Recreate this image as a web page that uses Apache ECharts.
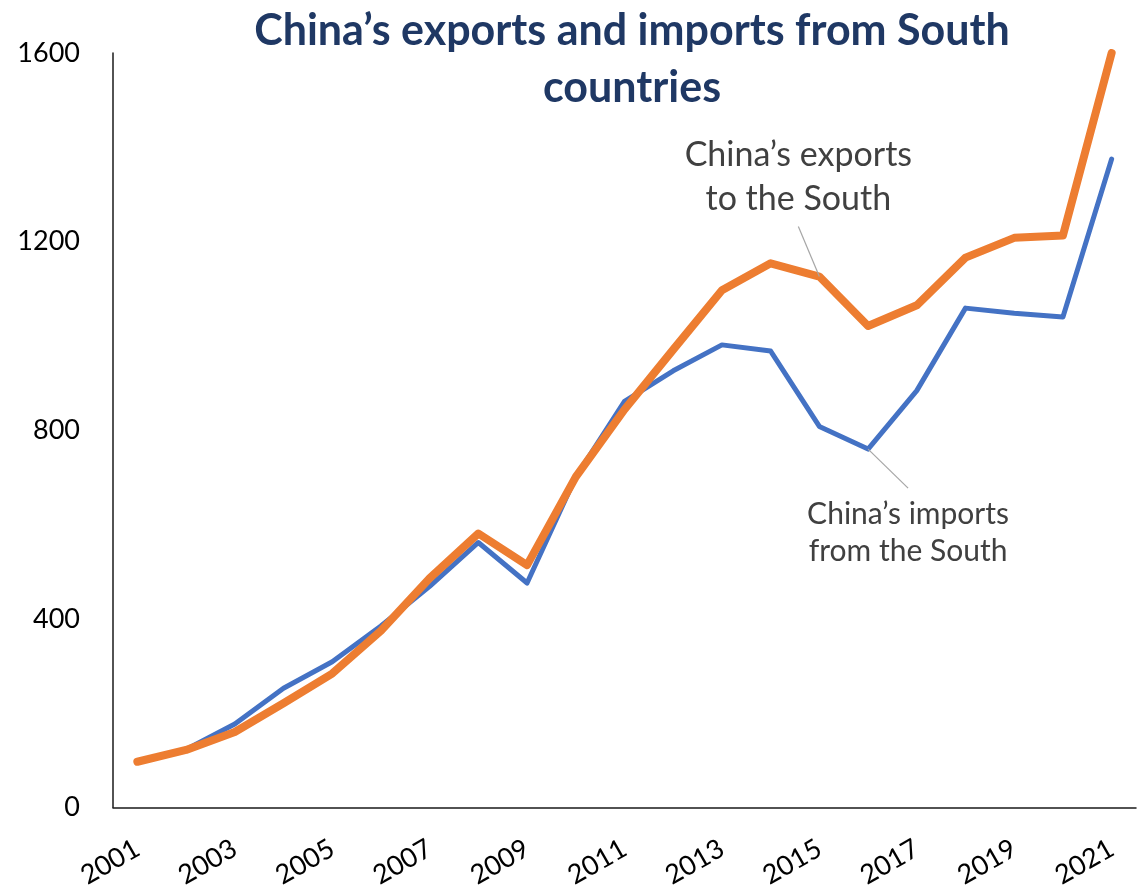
<!DOCTYPE html>
<html>
<head>
<meta charset="utf-8">
<style>
  html, body { margin: 0; padding: 0; background: #fff; }
  #chart { width: 1138px; height: 891px; }
</style>
<script src="https://cdn.jsdelivr.net/npm/echarts@6/dist/echarts.min.js"></script>
</head>
<body>
<div id="chart"></div>
<script>
// Years on the horizontal axis
const years = ['2001','2002','2003','2004','2005','2006','2007','2008','2009','2010',
               '2011','2012','2013','2014','2015','2016','2017','2018','2019','2020','2021'];

// China's exports to the South
const exportsSouth = [97, 122, 160, 221, 284, 375, 486, 581, 514, 701,
                      844, 971, 1097, 1154, 1126, 1021, 1065, 1166, 1208, 1213, 1600];

// China's imports from the South
const importsSouth = [97, 123, 177, 253, 309, 385, 469, 562, 476, 701,
                      861, 926, 981, 968, 808, 760, 884, 1059, 1048, 1040, 1375];

const yTicks = [0, 400, 800, 1200, 1600];

const titleText = 'China\u2019s exports and imports from South\ncountries';
const exportsLabel = 'China\u2019s exports\nto the South';
const importsLabel = 'China\u2019s imports\nfrom the South';

const FONT = 'Lato, "Open Sans", sans-serif';

const chart = echarts.init(document.getElementById('chart'), null, { renderer: 'canvas' });

chart.setOption({
  animation: false,
  backgroundColor: '#ffffff',
  title: {
    text: titleText,
    left: 627,
    textAlign: 'center',
    top: -2,
    textStyle: {
      fontFamily: FONT,
      fontWeight: 'bold',
      fontSize: 43,
      lineHeight: 57,
      color: '#1F3864'
    }
  },
  grid: { left: 113, right: 2, top: 53, bottom: 78, containLabel: false },
  xAxis: {
    type: 'category',
    data: years,
    boundaryGap: true,
    axisLine: { show: true, lineStyle: { color: '#1a1a1a', width: 1.5 } },
    axisTick: { show: false },
    axisLabel: {
      interval: 1,
      rotate: 30,
      margin: 39,
      fontFamily: FONT,
      fontSize: 27,
      color: '#000'
    }
  },
  yAxis: {
    type: 'value',
    min: yTicks[0],
    max: yTicks[yTicks.length - 1],
    interval: yTicks[1] - yTicks[0],
    splitLine: { show: false },
    axisLine: { show: true, lineStyle: { color: '#1a1a1a', width: 1.5 } },
    axisTick: { show: false },
    axisLabel: {
      margin: 33,
      fontFamily: FONT,
      fontSize: 27,
      color: '#000',
      formatter: (v) => String(v)
    }
  },
  series: [
    {
      name: 'imports',
      type: 'line',
      data: importsSouth,
      symbol: 'none',
      lineStyle: { color: '#4472C4', width: 5, cap: 'round', join: 'round' },
      z: 2
    },
    {
      name: 'exports',
      type: 'line',
      data: exportsSouth,
      symbol: 'none',
      lineStyle: { color: '#ED7D31', width: 8, cap: 'round', join: 'round' },
      z: 3
    }
  ]
});

// Callout labels with thin leader lines anchored to data points
const pExp = chart.convertToPixel({ gridIndex: 0 }, [years[14], exportsSouth[14]]);
const pImp = chart.convertToPixel({ gridIndex: 0 }, [years[15], importsSouth[15]]);

const calloutBase = {
  fontFamily: FONT,
  fill: '#404040',
  align: 'center',
  verticalAlign: 'middle'
};

chart.setOption({
  graphic: [
    {
      type: 'line',
      shape: { x1: pExp[0], y1: pExp[1], x2: pExp[0] - 21, y2: pExp[1] - 50 },
      style: { stroke: '#a6a6a6', lineWidth: 1.2 },
      z: 10
    },
    {
      type: 'text',
      x: pExp[0] - 21,
      y: pExp[1] - 99,
      style: Object.assign({ text: exportsLabel, fontSize: 34, lineHeight: 44 }, calloutBase),
      z: 10
    },
    {
      type: 'line',
      shape: { x1: pImp[0], y1: pImp[1], x2: pImp[0] + 40, y2: pImp[1] + 39 },
      style: { stroke: '#a6a6a6', lineWidth: 1.2 },
      z: 10
    },
    {
      type: 'text',
      x: pImp[0] + 40,
      y: pImp[1] + 84,
      style: Object.assign({ text: importsLabel, fontSize: 30, lineHeight: 37 }, calloutBase),
      z: 10
    }
  ]
});
</script>
</body>
</html>
